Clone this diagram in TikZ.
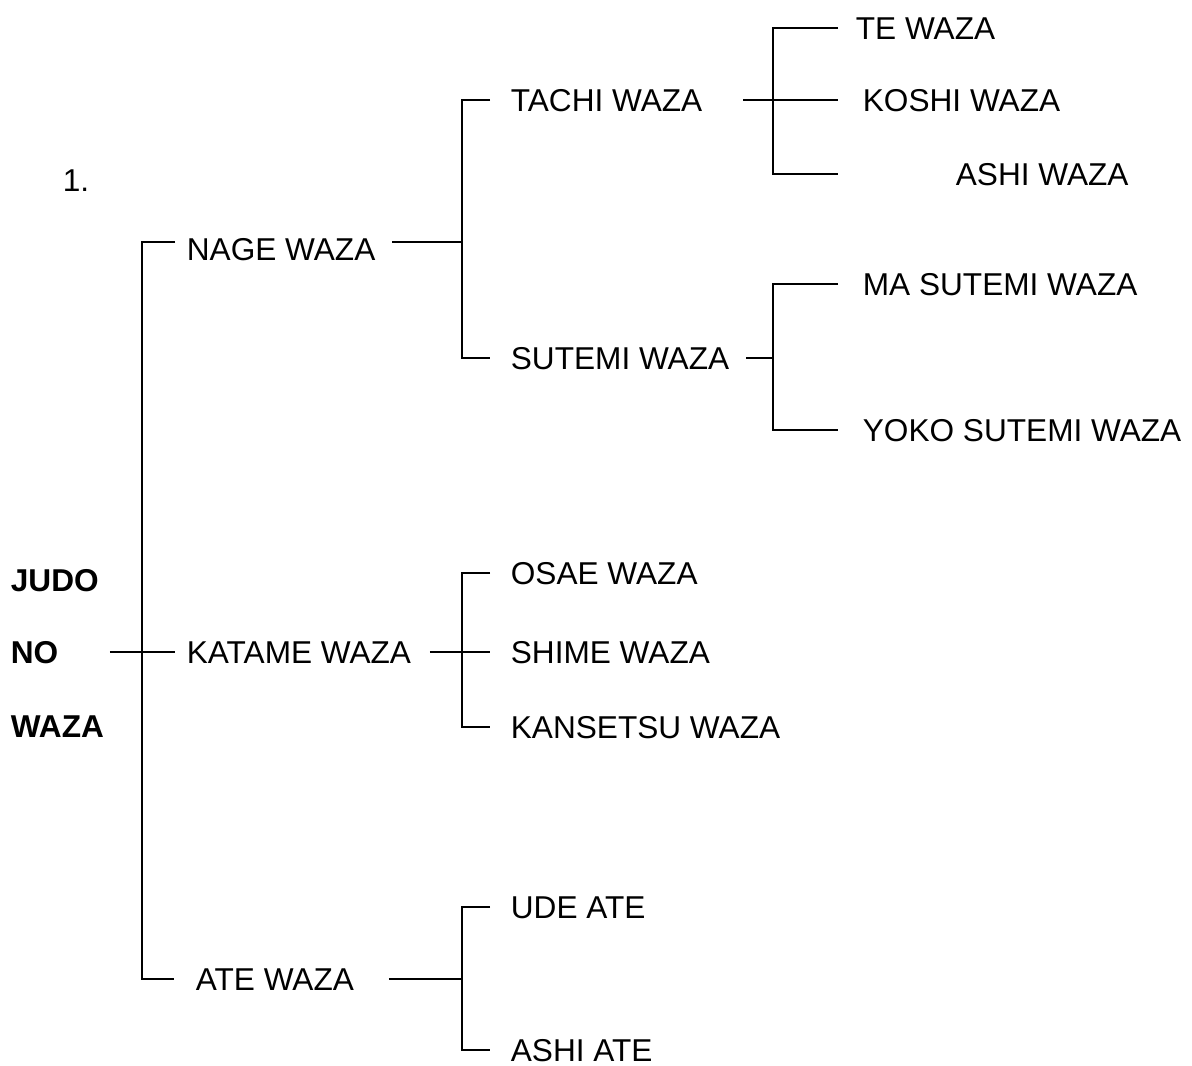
\documentclass[tikz,border=0pt]{standalone}
\usepackage{fontspec}
\setmainfont{Liberation Sans}
\begin{document}
\begin{tikzpicture}[x=1pt, y=-1pt, line width=1.8pt,
  lab/.style={font=\fontsize{31.6}{36}\selectfont, inner sep=0pt, anchor=west, text height=22pt, text depth=0pt},
  root/.style={lab, font=\fontsize{31.6}{36}\selectfont\bfseries}]
\useasboundingbox (0,0) rectangle (1192,1066);
\node[lab] (num) at (62,180) {1.};
\node[root] (judo) at (10,580) {JUDO};
\node[root] (no) at (10,652) {NO};
\node[root] (waza) at (10,726) {WAZA};

\node[lab] (nage) at (186,249) {NAGE WAZA};
\node[lab] (katame) at (186,652) {KATAME WAZA};
\node[lab] (ate) at (195,979) {ATE WAZA};

\node[lab] (tachi) at (510,100) {TACHI WAZA};
\node[lab] (sutemi) at (510,358) {SUTEMI WAZA};
\node[lab] (te) at (855,28) {TE WAZA};
\node[lab] (koshi) at (862,100) {KOSHI WAZA};
\node[lab] (ashiw) at (955,174) {ASHI WAZA};
\node[lab] (masutemi) at (862,284) {MA SUTEMI WAZA};
\node[lab] (yoko) at (862,430) {YOKO SUTEMI WAZA};

\node[lab] (osae) at (510,573) {OSAE WAZA};
\node[lab] (shime) at (510,652) {SHIME WAZA};
\node[lab] (kansetsu) at (510,727) {KANSETSU WAZA};

\node[lab] (ude) at (510,907) {UDE ATE};
\node[lab] (ashiate) at (510,1050) {ASHI ATE};

\coordinate (trunk) at (142,652);
\coordinate (nageJ) at (462,242);
\coordinate (katameJ) at (462,652);
\coordinate (ateJ) at (462,979);
\coordinate (tachiJ) at (773,100);
\coordinate (sutemiJ) at (773,358);

% main trunk
\draw ([xshift=-11pt,yshift=7pt]nage.west) -| (trunk) |- ([xshift=-21pt]ate.west);
\draw ([xshift=5pt]waza.east |- no.east) -- ([xshift=-11pt]katame.west);

% nage waza
\draw ([xshift=16pt,yshift=7pt]nage.east) -- (nageJ);
\draw ([xshift=-20pt]tachi.west) -| (nageJ) |- ([xshift=-20pt]sutemi.west);
\draw ([xshift=40pt]tachi.east) -- ([xshift=-24pt]koshi.west);
\draw ([xshift=-17pt]te.west) -| (tachiJ) |- ([xshift=-117pt]ashiw.west);
\draw ([xshift=16pt]sutemi.east) -- (sutemiJ);
\draw ([xshift=-24pt]masutemi.west) -| (sutemiJ) |- ([xshift=-24pt]yoko.west);

% katame waza
\draw ([xshift=18pt]katame.east) -- ([xshift=-20pt]shime.west);
\draw ([xshift=-20pt]osae.west) -| (katameJ) |- ([xshift=-20pt]kansetsu.west);

% ate waza
\draw ([xshift=34pt]ate.east) -- (ateJ);
\draw ([xshift=-20pt]ude.west) -| (ateJ) |- ([xshift=-20pt]ashiate.west);
\end{tikzpicture}
\end{document}
